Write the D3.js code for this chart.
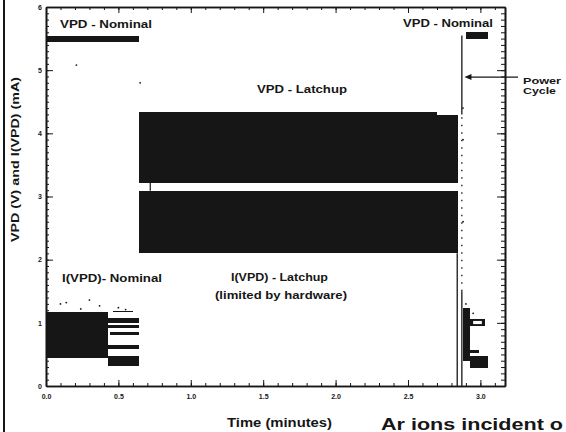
<!DOCTYPE html>
<html>
<head>
<meta charset="utf-8">
<script src="https://cdn.jsdelivr.net/npm/d3@7"></script>
<style>
  body { margin: 0; background: #fff; }
  svg { display: block; font-family: Arial, "Liberation Sans", sans-serif; font-weight: bold; }
</style>
</head>
<body>
<div id="app"></div>
<script>
const timeTicks = [0, 0.5, 1, 1.5, 2, 2.5, 3];
const timeTickLabels = ["0.0", "0.5", "1.0", "1.5", "2.0", "2.5", "3.0"];
const valueTicks = [0, 1, 2, 3, 4, 5, 6];
const valueTickLabels = ["0", "1", "2", "3", "4", "5", "6"];

// bands: [start (min), end (min), low, high]
const vpdNominal = [[0, 0.64, 5.44, 5.54], [2.9, 3.055, 5.49, 5.6]];
const vpdLatchup = [[0.645, 2.70, 3.22, 4.33], [2.70, 2.845, 3.22, 4.29]];
const iLatchup = [[0.645, 2.845, 2.1, 3.09]];
const iNominal = [
  [0, 0.43, 0.44, 1.17],
  [0.43, 0.645, 0.32, 0.48],
  [0.43, 0.645, 0.58, 0.65],
  [0.44, 0.64, 0.81, 0.86],
  [0.43, 0.64, 0.92, 0.96],
  [0.43, 0.645, 1.0, 1.07],
  [0.46, 0.6, 1.17, 1.19]
];
const iAfterCycle = [
  [2.877, 2.93, 0.4, 1.24],
  [2.877, 3.03, 0.95, 1.06],
  [2.93, 3.05, 0.29, 0.48],
  [2.93, 2.99, 0.52, 0.57]
];
// vertical traces at power cycle: [time, low, high]
const cycleSolid = [[2.84, 0, 2.1], [2.872, 0, 1.5], [2.872, 4.3, 5.55]];
const cycleDotted = [[2.872, 1.5, 4.3]];
// stray samples: [time, value]
const strayPoints = [
  [0.21, 5.08], [0.65, 4.8], [0.1, 1.3], [0.14, 1.32], [0.3, 1.36],
  [0.37, 1.27], [0.24, 1.22], [0.5, 1.24], [0.55, 1.21], [2.9, 1.3],
  [2.95, 1.15], [2.88, 4.4], [2.88, 3.9], [2.88, 2.6]
];

const width = 566, height = 432;
const x = d3.scaleLinear().domain([0, 3.17]).range([46, 505]);
const y = d3.scaleLinear().domain([0, 6]).range([386, 7]);
const ink = "#161616";

const svg = d3.select("#app").append("svg")
  .attr("width", width)
  .attr("height", height);

// scan border on the left
svg.append("line")
  .attr("x1", 4).attr("x2", 4).attr("y1", 0).attr("y2", height)
  .attr("stroke", ink).attr("stroke-width", 2);

function bands(list) {
  svg.append("g").selectAll("rect")
    .data(list)
    .join("rect")
    .attr("x", d => x(d[0]))
    .attr("width", d => x(d[1]) - x(d[0]))
    .attr("y", d => y(d[3]))
    .attr("height", d => y(d[2]) - y(d[3]))
    .attr("shape-rendering", "crispEdges")
    .attr("fill", ink);
}
bands(vpdNominal);
bands(vpdLatchup);
bands(iLatchup);
bands(iNominal);
bands(iAfterCycle);

// small white loop inside the recovered current trace
svg.append("rect")
  .attr("x", x(2.95)).attr("width", x(3.01) - x(2.95))
  .attr("y", y(1.03)).attr("height", y(0.98) - y(1.03))
  .attr("fill", "#fff");

// short divider at start of latchup gap
svg.append("line")
  .attr("x1", x(0.72)).attr("x2", x(0.72))
  .attr("y1", y(3.22)).attr("y2", y(3.09))
  .attr("stroke", ink).attr("stroke-width", 1.2);

svg.append("g").selectAll("line")
  .data(cycleSolid)
  .join("line")
  .attr("x1", d => x(d[0])).attr("x2", d => x(d[0]))
  .attr("y1", d => y(d[1])).attr("y2", d => y(d[2]))
  .attr("stroke", ink).attr("stroke-width", 1.3);

svg.append("g").selectAll("line")
  .data(cycleDotted)
  .join("line")
  .attr("x1", d => x(d[0])).attr("x2", d => x(d[0]))
  .attr("y1", d => y(d[1])).attr("y2", d => y(d[2]))
  .attr("stroke", ink).attr("stroke-width", 1.3)
  .attr("stroke-dasharray", "1.5,6");

svg.append("g").selectAll("circle")
  .data(strayPoints)
  .join("circle")
  .attr("cx", d => x(d[0])).attr("cy", d => y(d[1]))
  .attr("r", 0.9).attr("fill", ink);

// axes, ticks pointing inward
const minorTime = d3.range(0, 3.15, 0.1);
const minorValue = d3.range(0, 6.01, 0.1);

function styleAxis(g) {
  g.selectAll("path").attr("stroke", ink).attr("stroke-width", 1.6);
  g.selectAll("line").attr("stroke", ink).attr("stroke-width", 1);
  g.selectAll("text").attr("fill", ink).style("font-size", "7px").style("font-weight", "bold");
}

svg.append("g").attr("transform", `translate(0,${y(0)})`)
  .call(d3.axisBottom(x).tickValues(minorTime).tickSizeInner(-3).tickSizeOuter(0).tickFormat(""))
  .call(styleAxis);
svg.append("g").attr("transform", `translate(0,${y(0)})`)
  .call(d3.axisBottom(x).tickValues(timeTicks).tickSizeInner(-6).tickSizeOuter(0)
    .tickPadding(8).tickFormat((d, i) => timeTickLabels[i]))
  .call(styleAxis);

svg.append("g").attr("transform", `translate(0,${y(6)})`)
  .call(d3.axisTop(x).tickValues(minorTime).tickSizeInner(-3).tickSizeOuter(0).tickFormat(""))
  .call(styleAxis);
svg.append("g").attr("transform", `translate(0,${y(6)})`)
  .call(d3.axisTop(x).tickValues(timeTicks).tickSizeInner(-6).tickSizeOuter(0).tickFormat(""))
  .call(styleAxis);

svg.append("g").attr("transform", `translate(${x(0)},0)`)
  .call(d3.axisLeft(y).tickValues(minorValue).tickSizeInner(-3).tickSizeOuter(0).tickFormat(""))
  .call(styleAxis);
svg.append("g").attr("transform", `translate(${x(0)},0)`)
  .call(d3.axisLeft(y).tickValues(valueTicks).tickSizeInner(-7).tickSizeOuter(0)
    .tickPadding(4).tickFormat((d, i) => valueTickLabels[i]))
  .call(styleAxis);

svg.append("g").attr("transform", `translate(${x(3.17)},0)`)
  .call(d3.axisRight(y).tickValues(minorValue).tickSizeInner(-4).tickSizeOuter(0).tickFormat(""))
  .call(styleAxis);
svg.append("g").attr("transform", `translate(${x(3.17)},0)`)
  .call(d3.axisRight(y).tickValues(valueTicks).tickSizeInner(-8).tickSizeOuter(0).tickFormat(""))
  .call(styleAxis);

// annotations
function label(text, px, py, len, size) {
  svg.append("text")
    .attr("x", px).attr("y", py)
    .attr("textLength", len).attr("lengthAdjust", "spacingAndGlyphs")
    .attr("fill", ink)
    .style("font-size", size + "px")
    .text(text);
}
label("VPD - Nominal", 60, 28, 92, 10);
label("VPD - Latchup", 257, 93, 90, 10);
label("VPD - Nominal", 403, 27, 90, 10);
label("I(VPD)- Nominal", 62, 282, 100, 10);
label("I(VPD) - Latchup", 231, 281, 97, 10);
label("(limited by hardware)", 215, 299, 132, 10);
label("Time (minutes)", 227, 427, 105, 12);
label("Power", 523, 84, 38, 9.5);
label("Cycle", 523, 94, 33, 9.5);
label("Ar ions incident o", 381, 430, 182, 16);

svg.append("text")
  .attr("transform", `translate(19,${(77 + 242) / 2}) rotate(-90)`)
  .attr("text-anchor", "middle")
  .attr("textLength", 165).attr("lengthAdjust", "spacingAndGlyphs")
  .attr("fill", ink)
  .style("font-size", "10px")
  .text("VPD (V) and I(VPD) (mA)");

// power cycle arrow
const arrowY = y(4.89);
svg.append("line")
  .attr("x1", x(2.89) + 5).attr("x2", 518)
  .attr("y1", arrowY).attr("y2", arrowY)
  .attr("stroke", ink).attr("stroke-width", 1.4);
svg.append("path")
  .attr("d", `M${x(2.89)},${arrowY} l7,-3 l0,6 z`)
  .attr("fill", ink);
</script>
</body>
</html>
